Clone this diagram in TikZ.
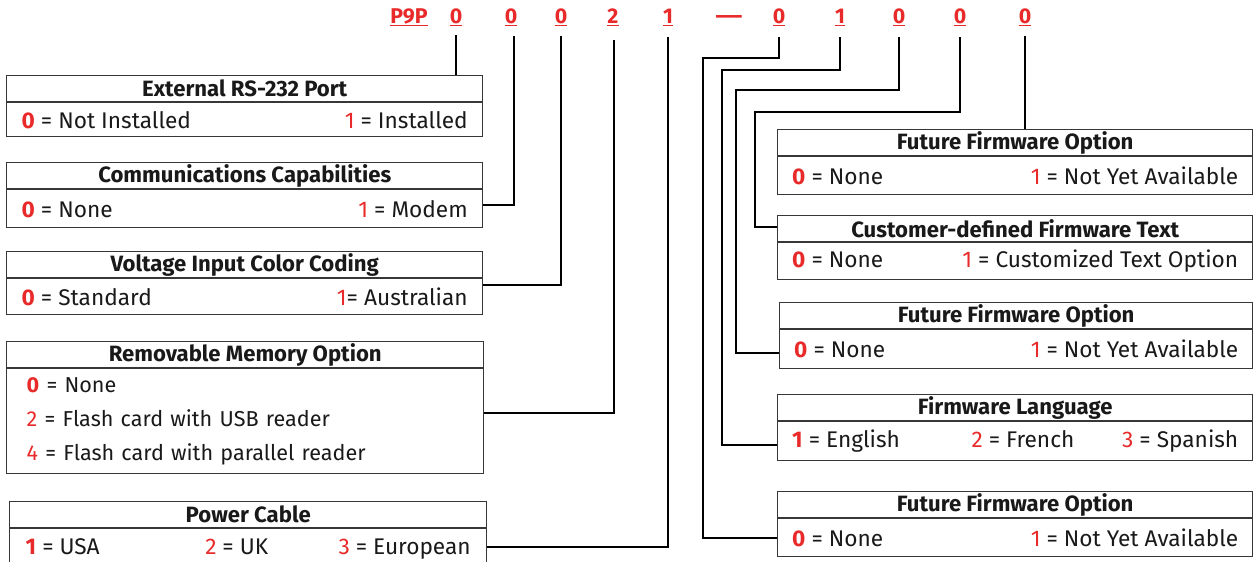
\documentclass[tikz,border=0pt]{standalone}
\usepackage{fontspec}
\setmainfont{Fira Sans}
\usetikzlibrary{calc}
\definecolor{codered}{RGB}{232,42,42}
\definecolor{boxline}{RGB}{55,55,55}
\newdimen\pu \pu=0.75pt
\newcommand\nb[1]{\textcolor{codered}{\bfseries #1}}
\newcommand\nr[1]{\textcolor{codered}{#1}}
\newcommand\rowfont{\fontsize{17}{20}\selectfont}
\newcommand\gapA{\hskip 0pt plus 3fill\relax}
\newcommand\gapB{\hskip 0pt plus 2fill\relax}
\tikzset{
  ttlbox/.style={draw=boxline, line width=1.1pt, anchor=north west, minimum width=#1*\pu,
    minimum height=25.5*\pu, inner sep=0pt, font=\bfseries\fontsize{16.6}{19}\selectfont, text=black!90},
  rowbox/.style={draw=boxline, line width=1.1pt, anchor=north west, minimum width=#1*\pu,
    inner sep=0pt, font=\rowfont, text=black!90},
  code/.style={text=codered, font=\bfseries\fontsize{16}{18}\selectfont, anchor=base, inner sep=0pt},
  conn/.style={line width=1.9pt, black}
}
\begin{document}
\begin{tikzpicture}[x=0.75pt,y=-0.75pt]
\useasboundingbox (0,0) rectangle (1253,561);
% header code
\node[code] (p9p) at (409,23) {\underline{P9P}};
\node[code] (d0) at (456,23) {\underline{0}};
\node[code] (d1) at (511,23) {\underline{0}};
\node[code] (d2) at (561,23) {\underline{0}};
\node[code] (d3) at (613,23) {\underline{2}};
\node[code] (d4) at (668,23) {\underline{1}};
\node[code] (dash) at (729,23) {\scalebox{1.6}[1]{—}};
\node[code] (d6) at (779,23) {\underline{0}};
\node[code] (d7) at (840,23) {\underline{1}};
\node[code] (d8) at (899,23) {\underline{0}};
\node[code] (d9) at (960,23) {\underline{0}};
\node[code] (d10) at (1025,23) {\underline{0}};
\coordinate (s0) at (456,35);
\coordinate (s1) at (514,36);
\coordinate (s2) at (561,36);
\coordinate (s3) at (614,40);
\coordinate (s4) at (668,37);
\coordinate (s6) at (779,37);
\coordinate (s7) at (840,37);
\coordinate (s8) at (899,37);
\coordinate (s9) at (960,37);
\coordinate (s10) at (1025,36);
% left boxes
\node[ttlbox=476] (b1t) at (6,75) {External RS-232 Port};
\node[rowbox=476, minimum height=34*\pu] (b1r) at (b1t.south west)
  {\hbox to 446\pu{\nb{0} = Not Installed\hfill\nr{1} = Installed}};
\node[ttlbox=476] (b2t) at (6,162) {Communications Capabilities};
\node[rowbox=476, minimum height=38*\pu] (b2r) at (b2t.south west)
  {\hbox to 446\pu{\nb{0} = None\hfill\nr{1} = Modem}};
\node[ttlbox=476] (b3t) at (6,251) {Voltage Input Color Coding};
\node[rowbox=476, minimum height=36*\pu] (b3r) at (b3t.south west)
  {\hbox to 446\pu{\nb{0} = Standard\hfill\nr{1}= Australian}};
\node[ttlbox=477] (b4t) at (6,341) {Removable Memory Option};
\node[rowbox=477, minimum height=105*\pu, text width=437*\pu, inner xsep=20*\pu, align=left,
  font=\fontsize{16.2}{25.5}\selectfont] (b4r) at (b4t.south west)
  {\nb{0} = None\\ \nr{2} = Flash card with USB reader\\ \nr{4} = Flash card with parallel reader};
\node[ttlbox=477] (b5t) at (9,501) {Power Cable};
\node[rowbox=477, minimum height=40*\pu] (b5r) at (b5t.south west)
  {\hbox to 445\pu{\nb{1} = USA\gapA\nr{2} = UK\gapB\nr{3} = European}};
% right boxes
\node[ttlbox=475] (r1t) at (777,129) {Future Firmware Option};
\node[rowbox=475, minimum height=38*\pu] (r1r) at (r1t.south west)
  {\hbox to 446\pu{\nb{0} = None\hfill\nr{1} = Not Yet Available}};
\node[ttlbox=475] (r2t) at (777,215) {Customer-defined Firmware Text};
\node[rowbox=475, minimum height=37*\pu] (r2r) at (r2t.south west)
  {\hbox to 446\pu{\nb{0} = None\hfill\nr{1} = Customized Text Option}};
\node[ttlbox=473] (r3t) at (779,302) {Future Firmware Option};
\node[rowbox=473, minimum height=39*\pu] (r3r) at (r3t.south west)
  {\hbox to 444\pu{\nb{0} = None\hfill\nr{1} = Not Yet Available}};
\node[ttlbox=475] (r4t) at (777,394) {Firmware Language};
\node[rowbox=475, minimum height=39*\pu] (r4r) at (r4t.south west)
  {\hbox to 446\pu{\nb{1} = English\gapA\nr{2} = French\gapB\nr{3} = Spanish}};
\node[ttlbox=475] (r5t) at (777,491) {Future Firmware Option};
\node[rowbox=475, minimum height=38*\pu] (r5r) at (r5t.south west)
  {\hbox to 446\pu{\nb{0} = None\hfill\nr{1} = Not Yet Available}};
% jog points
\coordinate (j6) at (703,58);
\coordinate (j7) at (722,70);
\coordinate (j8) at (736,90);
\coordinate (j9) at (755,112);
% connectors
\draw[conn] (s0) -- (s0 |- b1t.north);
\draw[conn] (s1) |- ($(b2r.north east)+(0,16)$);
\draw[conn] (s2) |- ($(b3r.north east)+(0,7)$);
\draw[conn] (s3) |- ($(b4r.north east)+(0,45)$);
\draw[conn] (s4) |- ($(b5r.north east)+(0,19)$);
\draw[conn] (s6) |- (j6) |- ($(r5r.north west)+(0,20)$);
\draw[conn] (s7) |- (j7) |- ($(r4r.north west)+(0,24)$);
\draw[conn] (s8) |- (j8) |- ($(r3r.north west)+(0,24)$);
\draw[conn] (s9) |- (j9) |- ($(r2t.north west)+(0,12)$);
\draw[conn] (s10) -- (s10 |- r1t.north);
\end{tikzpicture}
\end{document}
